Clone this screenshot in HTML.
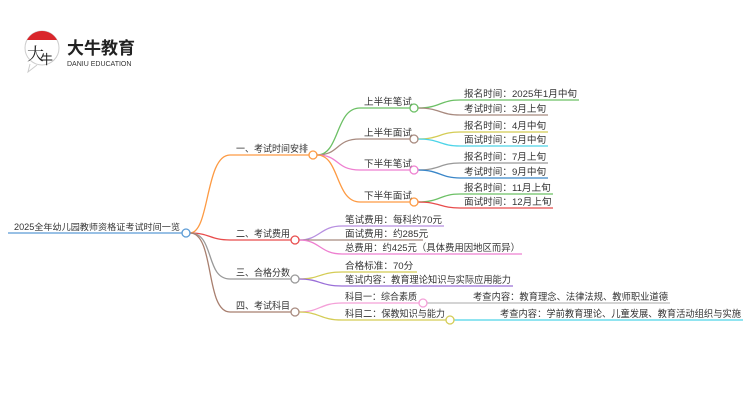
<!DOCTYPE html>
<html><head><meta charset="utf-8"><style>
body{margin:0;background:#fff;width:750px;height:410px;overflow:hidden}
svg text{font-family:"Liberation Sans","Noto Sans CJK SC",sans-serif;font-size:9.6px;fill:#333}
</style></head><body>
<svg width="750" height="410" viewBox="0 0 750 410" xmlns="http://www.w3.org/2000/svg" fill="none" stroke-width="1.3">
<!-- logo -->
<g>
<circle cx="42" cy="48" r="17" fill="#fff" stroke="#ccc" stroke-width="1"/>
<path d="M27 40 A17 17 0 0 1 57 40 Z" fill="#d9262b" stroke="none"/>
<path d="M30 64 L28 72 L37 65" fill="#fff" stroke="#ccc" stroke-width="1"/>
<text x="27" y="60" style="font-size:17px;fill:#222;font-family:'Noto Serif CJK SC',serif">大</text>
<text x="40" y="64" style="font-size:13px;fill:#222">牛</text>
<text x="67" y="54" style="font-size:17px;font-weight:bold;fill:#222">大牛教育</text>
<text x="67" y="66" style="font-size:7px;fill:#333">DANIU EDUCATION</text>
</g>
<!-- root -->
<line x1="8" y1="233" x2="182" y2="233" stroke="#5b9bd5"/>
<text x="14" y="230" style="font-size:8.8px" textLength="166" lengthAdjust="spacingAndGlyphs">2025全年幼儿园教师资格证考试时间一览</text>
<!-- level1 curves -->
<path d="M190 233 C210 233,205 155,230 155 L309 155" stroke="#fd9a43"/>
<path d="M190 233 C210 233,210 240,230 240 L291 240" stroke="#e84c4c"/>
<path d="M190 233 C215 233,205 279,230 279 L291 279" stroke="#999"/>
<path d="M190 233 C215 233,205 312,230 312 L291 312" stroke="#a87f6f"/>
<circle cx="186" cy="233" r="4" fill="#fff" stroke="#5b9bd5"/>
<text x="236" y="152" textLength="72" lengthAdjust="spacingAndGlyphs">一、考试时间安排</text>
<text x="236" y="237" textLength="54" lengthAdjust="spacingAndGlyphs">二、考试费用</text>
<text x="236" y="276" textLength="54" lengthAdjust="spacingAndGlyphs">三、合格分数</text>
<text x="236" y="309" textLength="54" lengthAdjust="spacingAndGlyphs">四、考试科目</text>
<!-- branch1 -->
<path d="M317 155 C340 155,335 108,360 108 L410 108" stroke="#6cc065"/>
<path d="M317 155 C340 155,335 139,360 139 L410 139" stroke="#a88a7f"/>
<path d="M317 155 C340 155,335 170,360 170 L410 170" stroke="#ee7fd0"/>
<path d="M317 155 C340 155,335 202,360 202 L410 202" stroke="#fd9a43"/>
<circle cx="313" cy="155" r="4" fill="#fff" stroke="#fd9a43"/>
<text x="364" y="105">上半年笔试</text>
<text x="364" y="136">上半年面试</text>
<text x="364" y="167">下半年笔试</text>
<text x="364" y="199">下半年面试</text>
<path d="M418 108 C440 108,440 100,460 100 L579 100" stroke="#6cc065"/>
<path d="M418 108 C440 108,440 115,460 115 L548 115" stroke="#a88a7f"/>
<path d="M418 139 C440 139,440 132,460 132 L548 132" stroke="#d4cc55"/>
<path d="M418 139 C440 139,440 146,460 146 L548 146" stroke="#4dd4e8"/>
<path d="M418 170 C440 170,440 163,460 163 L548 163" stroke="#999"/>
<path d="M418 170 C440 170,440 178,460 178 L548 178" stroke="#3a86c8"/>
<path d="M418 202 C440 202,440 194,460 194 L553 194" stroke="#6cc065"/>
<path d="M418 202 C440 202,440 208,460 208 L553 208" stroke="#e84c4c"/>
<circle cx="414" cy="108" r="4" fill="#fff" stroke="#6cc065"/>
<circle cx="414" cy="139" r="4" fill="#fff" stroke="#a88a7f"/>
<circle cx="414" cy="170" r="4" fill="#fff" stroke="#ee7fd0"/>
<circle cx="414" cy="202" r="4" fill="#fff" stroke="#fd9a43"/>
<text x="464" y="97">报名时间：2025年1月中旬</text>
<text x="464" y="112">考试时间：3月上旬</text>
<text x="464" y="129">报名时间：4月中旬</text>
<text x="464" y="143">面试时间：5月中旬</text>
<text x="464" y="160">报名时间：7月上旬</text>
<text x="464" y="175">考试时间：9月中旬</text>
<text x="464" y="191">报名时间：11月上旬</text>
<text x="464" y="205">面试时间：12月上旬</text>
<!-- branch2 -->
<path d="M299 240 C320 240,320 226,342 226 L444 226" stroke="#b78fe0"/>
<path d="M299 240 L423 240" stroke="#a88a7f"/>
<path d="M299 240 C320 240,320 254,342 254 L522 254" stroke="#ee7fd0"/>
<circle cx="295" cy="240" r="4" fill="#fff" stroke="#e84c4c"/>
<text x="345" y="223">笔试费用：每科约70元</text>
<text x="345" y="237">面试费用：约285元</text>
<text x="345" y="251" textLength="175" lengthAdjust="spacingAndGlyphs">总费用：约425元（具体费用因地区而异）</text>
<!-- branch3 -->
<path d="M299 279 C320 279,320 272,342 272 L417 272" stroke="#d4cc55"/>
<path d="M299 279 C320 279,320 286,342 286 L513 286" stroke="#9a6fd8"/>
<circle cx="295" cy="279" r="4" fill="#fff" stroke="#999"/>
<text x="345" y="269">合格标准：70分</text>
<text x="345" y="283" textLength="166" lengthAdjust="spacingAndGlyphs">笔试内容：教育理论知识与实际应用能力</text>
<!-- branch4 -->
<path d="M299 312 C320 312,320 303,342 303 L419 303" stroke="#f4a0d8"/>
<path d="M299 312 C320 312,320 320,342 320 L446 320" stroke="#d4cc55"/>
<path d="M427 303 L670 303" stroke="#bbb"/>
<path d="M454 320 L743 320" stroke="#4dd4e8"/>
<circle cx="295" cy="312" r="4" fill="#fff" stroke="#a88a7f"/>
<circle cx="423" cy="303" r="4" fill="#fff" stroke="#f4a0d8"/>
<circle cx="450" cy="320" r="4" fill="#fff" stroke="#d4cc55"/>
<text x="345" y="300" textLength="72" lengthAdjust="spacingAndGlyphs">科目一：综合素质</text>
<text x="345" y="317" textLength="100" lengthAdjust="spacingAndGlyphs">科目二：保教知识与能力</text>
<text x="473" y="300" textLength="195" lengthAdjust="spacingAndGlyphs">考查内容：教育理念、法律法规、教师职业道德</text>
<text x="500" y="317" textLength="241" lengthAdjust="spacingAndGlyphs">考查内容：学前教育理论、儿童发展、教育活动组织与实施</text>
</svg>
</body></html>
